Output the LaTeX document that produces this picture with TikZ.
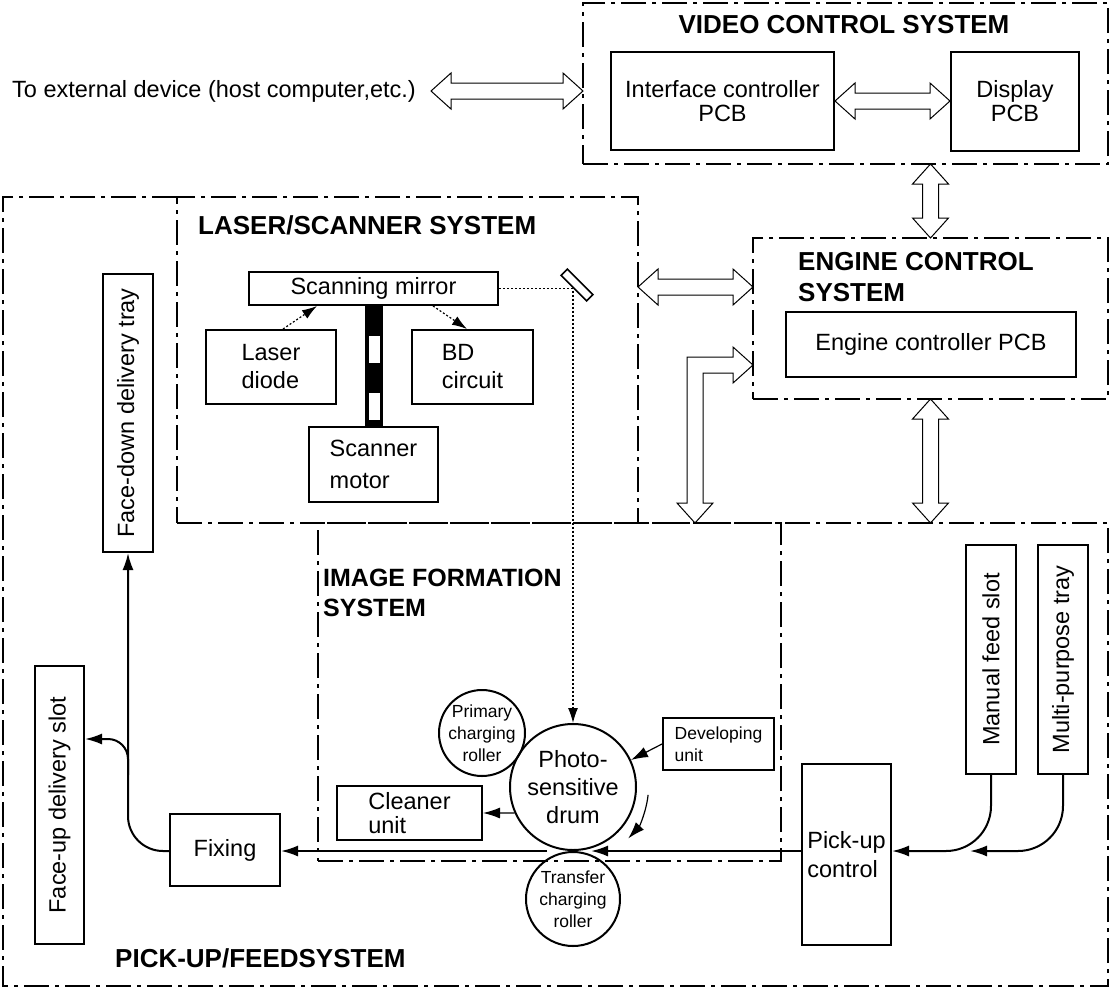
\documentclass[tikz,border=0pt]{standalone}
\usepackage{fontspec}
\setmainfont{Liberation Sans}
\usepackage{graphicx}
\usetikzlibrary{calc,arrows.meta}
\newcommand\nf{\fontsize{23.5}{28}\selectfont}
\newcommand\nfa{\fontsize{23.5}{24}\selectfont}
\newcommand\nfb{\fontsize{23.5}{32}\selectfont}
\newcommand\tf{\fontsize{26}{31}\selectfont\bfseries}
\newcommand\tfs{\fontsize{25}{30}\selectfont\bfseries}
\newcommand\smf{\fontsize{17.5}{22}\selectfont}
\newcommand\hdarr[2]{\draw[hollow] (#1) -- ($(#1)+(20,-18)$) -- ($(#1)+(20,-8)$) -- ($(#2)+(-20,-8)$) -- ($(#2)+(-20,-18)$) -- (#2) -- ($(#2)+(-20,18)$) -- ($(#2)+(-20,8)$) -- ($(#1)+(20,8)$) -- ($(#1)+(20,18)$) -- cycle;}
\newcommand\vdarr[2]{\draw[hollow] (#1) -- ($(#1)+(18,20)$) -- ($(#1)+(8,20)$) -- ($(#2)+(8,-20)$) -- ($(#2)+(18,-20)$) -- (#2) -- ($(#2)+(-18,-20)$) -- ($(#2)+(-8,-20)$) -- ($(#1)+(-8,20)$) -- ($(#1)+(-18,20)$) -- cycle;}
\begin{document}
\begin{tikzpicture}[x=1pt,y=-1pt,
  dd/.style={line width=2.5pt, dash pattern=on 25pt off 6pt on 4pt off 6pt},
  sysbox/.style={draw, dd, inner sep=0pt, outer sep=0pt},
  bx/.style={draw, line width=2pt, inner sep=0pt, font=\nf, align=center},
  title/.style={font=\tf, align=left, inner sep=0pt},
  conn/.style={line width=2pt, -{Latex[length=17pt,width=11pt]}},
  thinconn/.style={line width=1.2pt, -{Latex[length=17pt,width=11pt]}},
  dotconn/.style={line width=1.2pt, dash pattern=on 2pt off 2pt, -{Latex[length=15pt,width=10pt]}},
  hollow/.style={draw, line width=1pt, fill=white, line join=miter},
  roller/.style={circle, draw, line width=2pt, inner sep=0pt}]
\useasboundingbox (0,0) rectangle (1112,989);

% system boxes
\node[sysbox, minimum width=525pt, minimum height=161pt] (vcs) at (845.5,83.5) {};
\node[sysbox, minimum width=355pt, minimum height=161pt] (ecs) at (930.5,318.5) {};
\node[sysbox, minimum width=461pt, minimum height=326pt] (lss) at (407.5,360) {};
\node[sysbox, minimum width=463pt, minimum height=338pt] (ifs) at (549.5,692) {};
\coordinate (pfA) at (3,197);
\coordinate (pfB) at (3,986);
\coordinate (pfC) at (1108,986);
\coordinate (pfD) at (1108,523);
\draw[dd] (lss.north west) -- (pfA) -- (pfB) -- (pfC) -- (pfD) -- (lss.south east);

% titles
\node[title] (vcst) at (844,25) {VIDEO CONTROL SYSTEM};
\node[title, anchor=west] (ecst) at (798,277.5) {ENGINE CONTROL\\SYSTEM};
\node[title, anchor=west] (lsst) at (198,225) {LASER/SCANNER SYSTEM};
\node[title, font=\tfs, anchor=west] (ifst) at (323,593) {IMAGE FORMATION\\SYSTEM};
\node[title, anchor=west] (pft) at (115,958) {PICK-UP/FEEDSYSTEM};

% video control
\node[anchor=east, inner sep=0pt, font=\nf] (ext) at (416,91) {To external device (host computer,etc.)};
\node[bx, font=\nfa, minimum width=223pt, minimum height=98pt] (ifc) at (722.5,101) {Interface controller\\PCB};
\node[bx, font=\nfa, minimum width=128pt, minimum height=99pt] (disp) at (1015,101) {Display\\PCB};

% engine control
\node[bx, minimum width=290pt, minimum height=65pt] (ecpcb) at (931,344.5) {Engine controller PCB};

% laser / scanner
\node[bx, minimum width=249pt, minimum height=33pt] (sm) at (373.5,288.5) {Scanning mirror};
\node[bx, align=left, minimum width=130pt, minimum height=74pt] (ld) at (271,367) {Laser\\diode};
\node[bx, align=left, minimum width=121pt, minimum height=74pt] (bd) at (472.5,367) {BD\\circuit};
\node[bx, font=\nfb, align=left, minimum width=129pt, minimum height=75pt] (smot) at (373.5,464.5) {Scanner\\motor};
\fill[black] (365,305) rectangle (383,427);
\fill[white] (368.5,336) rectangle (379.5,363);
\fill[white] (368.5,393) rectangle (379.5,420);

% image formation
\node[roller, minimum size=126pt, label={[font=\nf, align=center]center:Photo-\\sensitive\\drum}] (drum) at (573,787) {};
\node[roller, minimum size=86pt, label={[font=\smf, align=center]center:Primary\\charging\\roller}] (pcr) at (482,733) {};
\node[roller, minimum size=94pt, label={[font=\smf, align=center]center:Transfer\\charging\\roller}] (tcr) at (573,899) {};
\node[bx, font=\smf, align=left, minimum width=111pt, minimum height=52pt] (dev) at (718.5,744) {Developing\\unit};
\node[bx, font=\nfa, align=left, minimum width=145pt, minimum height=54pt] (cl) at (409.5,813) {Cleaner\\unit};

% pick-up / feed
\node[bx, minimum width=50pt, minimum height=278pt] (fd) at (128,413) {\rotatebox{90}{Face-down delivery tray}};
\node[bx, minimum width=49pt, minimum height=278pt] (fu) at (59.5,805) {\rotatebox{90}{Face-up delivery slot}};
\node[bx, minimum width=110pt, minimum height=72pt] (fix) at (225,850) {Fixing};
\node[bx, align=left, font={\fontsize{23.5}{29}\selectfont}, minimum width=89pt, minimum height=181pt] (pu) at (846.5,854.5) {Pick-up\\control};
\node[bx, minimum width=50pt, minimum height=229pt] (mf) at (991,659.5) {\rotatebox{90}{Manual feed slot}};
\node[bx, minimum width=50pt, minimum height=229pt] (mp) at (1063,659.5) {\rotatebox{90}{Multi-purpose tray}};

% laser path
\coordinate (mcorner) at (drum.north |- sm.east);
\draw[dotconn] ([xshift=12pt]ld.north) -- ([xshift=-56.5pt]sm.south);
\draw[dotconn] ([xshift=59.5pt]sm.south) -- ([xshift=-5.5pt]bd.north);
\draw[dotconn] (sm.east) -- (mcorner) -- (drum.north);
\node[draw, fill=white, line width=1.6pt, minimum width=36pt, minimum height=9pt, inner sep=0pt, rotate=-45] (mir) at (577,285) {};

% drum connectors
\draw[thinconn] (dev.west) -- (drum.25);
\draw[thinconn] (drum.204) -- (cl.east);
\draw[thinconn] ($(drum.center)+(6:75.5)$) arc[start angle=6, end angle=43, radius=75.5];

% paper path
\coordinate (nipR) at (591,851);
\coordinate (nipL) at (547,851);
\coordinate (mpin) at (970,851);
\draw[conn] (pu.west |- nipR) -- (nipR);
\draw[conn] (nipL) -- (fix.east |- nipL);
\draw[conn, rounded corners=35] (fix.west |- nipL) -| (fd.south);
\coordinate (br) at (fd.south |- 0,775);
\coordinate (fuin) at (fu.east |- 0,739);
\draw[conn, rounded corners=20] (br) |- (fuin);
\draw[conn, rounded corners=45] (mf.south) |- (pu.east |- nipR);
\draw[conn, rounded corners=45] (mp.south) |- (mpin);

% hollow arrows
\coordinate (extA) at (431,91);
\coordinate (extB) at (vcs.west |- extA);
\hdarr{extA}{extB}
\hdarr{ifc.east}{disp.west}
\coordinate (v1t) at (vcs.south -| ecs.north);
\vdarr{v1t}{ecs.north}
\coordinate (h1a) at (lss.east |- 0,287);
\coordinate (h1b) at (ecs.west |- 0,287);
\hdarr{h1a}{h1b}
\coordinate (pfT) at (ecs.south |- pfD);
\vdarr{ecs.south}{pfT}
\coordinate (Lt) at (ecs.west |- 0,365);
\coordinate (Lc) at (695,365);
\coordinate (Lb) at (Lc |- pfD);
\draw[hollow] (Lt) -- ($(Lt)+(-20,-18)$) -- ($(Lt)+(-20,-8)$) -- ($(Lc)+(-8,-8)$) -- ($(Lb)+(-8,-20)$) -- ($(Lb)+(-18,-20)$) -- (Lb) -- ($(Lb)+(18,-20)$) -- ($(Lb)+(8,-20)$) -- ($(Lc)+(8,8)$) -- ($(Lt)+(-20,8)$) -- ($(Lt)+(-20,18)$) -- cycle;
\end{tikzpicture}
\end{document}
